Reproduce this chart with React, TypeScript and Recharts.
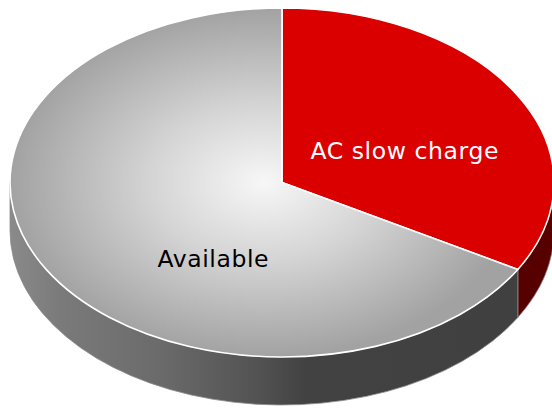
import { PieChart, Pie, Cell } from "recharts";

const labels = ["AC slow charge", "Available"];
const shares = [33.3, 66.7];
const topColors = ["#db0000", "url(#availTop)"];
const wallColors = ["#560000", "url(#availWall)"];
const labelColors = ["#ffffff", "#000000"];

const data = labels.map((name, i) => ({ name, value: shares[i] }));

const TILT = 0.6415;
const DEPTH = 48;
const RAD = Math.PI / 180;
// nudges so labels sit where the original put them
const labelShift = [
  [5, 12],
  [49, 33],
];

function pt(cx: number, cy: number, rx: number, ry: number, a: number, dy = 0) {
  return [cx + rx * Math.cos(a * RAD), cy - ry * Math.sin(a * RAD) + dy];
}

// top face of a slice, squashed into an ellipse
function TopShape(props: any) {
  const { cx, cy, outerRadius, startAngle, endAngle, fill } = props;
  const rx = outerRadius;
  const ry = outerRadius * TILT;
  const [x1, y1] = pt(cx, cy, rx, ry, startAngle);
  const [x2, y2] = pt(cx, cy, rx, ry, endAngle);
  const large = Math.abs(startAngle - endAngle) > 180 ? 1 : 0;
  const d = `M${cx},${cy} L${x1},${y1} A${rx},${ry} 0 ${large} 1 ${x2},${y2} Z`;
  return <path d={d} fill={fill} stroke="#ffffff" strokeWidth={1.6} strokeLinejoin="round" />;
}

// front wall: only the part of the slice facing the viewer (angles -180..0)
function WallShape(props: any) {
  const { cx, cy, outerRadius, startAngle, endAngle, fill } = props;
  const rx = outerRadius;
  const ry = outerRadius * TILT;
  const hi = Math.max(startAngle, endAngle);
  const lo = Math.min(startAngle, endAngle);
  const a = Math.min(hi, 0);
  const b = Math.max(lo, -180);
  if (a <= b) return <g />;
  const [x1, y1] = pt(cx, cy, rx, ry, a);
  const [x2, y2] = pt(cx, cy, rx, ry, b);
  const [x3, y3] = pt(cx, cy, rx, ry, b, DEPTH);
  const [x4, y4] = pt(cx, cy, rx, ry, a, DEPTH);
  const large = a - b > 180 ? 1 : 0;
  const d =
    `M${x1},${y1} A${rx},${ry} 0 ${large} 1 ${x2},${y2} ` +
    `L${x3},${y3} A${rx},${ry} 0 ${large} 0 ${x4},${y4} Z`;
  return <path d={d} fill={fill} stroke="#8a8a8a" strokeWidth={0.8} />;
}

function SliceLabel(props: any) {
  const { cx, cy, outerRadius, midAngle, index } = props;
  const r = outerRadius * 0.5;
  const x = cx + r * Math.cos(midAngle * RAD) + labelShift[index][0];
  const y = cy - r * TILT * Math.sin(midAngle * RAD) + labelShift[index][1];
  return (
    <text
      x={x}
      y={y}
      fill={labelColors[index]}
      textAnchor="middle"
      dominantBaseline="central"
      fontFamily="'DejaVu Sans', sans-serif"
      fontSize={23.5}
      letterSpacing={0.6}
    >
      {labels[index]}
    </text>
  );
}

export default function App() {
  return (
    <div style={{ position: "absolute", left: 0, top: 0, width: 552, height: 408, background: "#fff" }}>
      <PieChart width={552} height={408} margin={{ top: 0, right: 0, bottom: 0, left: 0 }}>
        <defs>
          <radialGradient id="availTop" cx="0.5" cy="0.5" r="0.5">
            <stop offset="0%" stopColor="#f7f7f7" />
            <stop offset="45%" stopColor="#d4d4d4" />
            <stop offset="100%" stopColor="#a2a2a2" />
          </radialGradient>
          <linearGradient id="availWall" gradientUnits="userSpaceOnUse" x1={10} y1={0} x2={520} y2={0}>
            <stop offset="0%" stopColor="#8a8a8a" />
            <stop offset="10%" stopColor="#7a7a7a" />
            <stop offset="30%" stopColor="#6a6a6a" />
            <stop offset="49%" stopColor="#525252" />
            <stop offset="58%" stopColor="#424242" />
            <stop offset="100%" stopColor="#404040" />
          </linearGradient>
        </defs>
        <Pie
          data={data}
          dataKey="value"
          cx={282}
          cy={182.5}
          innerRadius={0}
          outerRadius={272}
          startAngle={90}
          endAngle={-270}
          stroke="none"
          shape={WallShape}
          isAnimationActive={false}
        >
          {data.map((d, i) => (
            <Cell key={d.name} fill={wallColors[i]} />
          ))}
        </Pie>
        <Pie
          data={data}
          dataKey="value"
          cx={282}
          cy={182.5}
          innerRadius={0}
          outerRadius={272}
          startAngle={90}
          endAngle={-270}
          shape={TopShape}
          label={SliceLabel}
          labelLine={false}
          isAnimationActive={false}
        >
          {data.map((d, i) => (
            <Cell key={d.name} fill={topColors[i]} />
          ))}
        </Pie>
      </PieChart>
    </div>
  );
}
